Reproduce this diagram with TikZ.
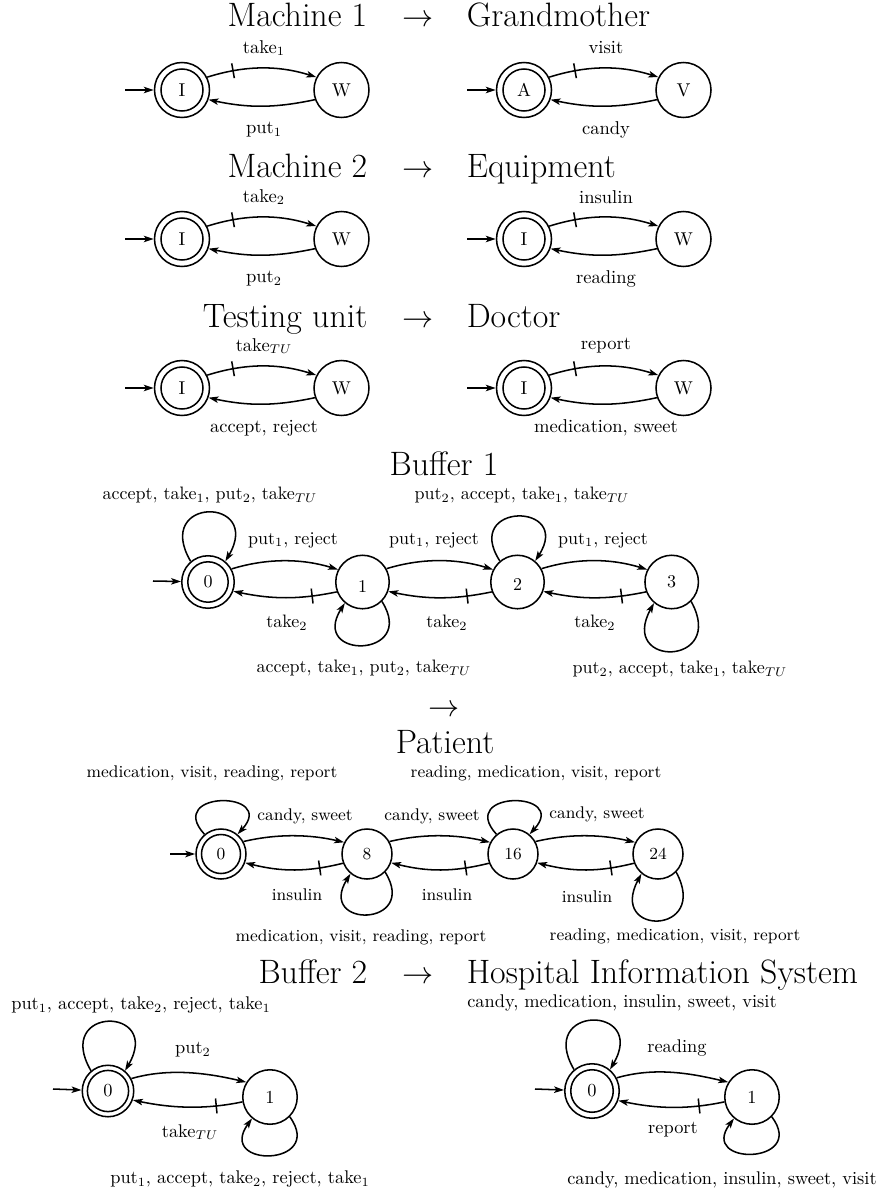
\documentclass[tikz,border=0pt]{standalone}
\usetikzlibrary{arrows.meta,decorations.markings}
% two-state cycle: #1 prefix, #2/#3 centre of the initial state,
% #4/#5 state texts, #6 forward label, #7 backward label
\newcommand{\twostate}[7]{%
  \node[st=55] (#1i) at (#2,#3) {#4};
  \path (#1i) ++(159.5,0) node[st=55] (#1w) {#5};
  \draw (#1i.center) circle[radius=21];
  \path (#1i) ++(-57,0) coordinate (#1s);
  \draw[trans] (#1s) -- (#1i);
  \draw[trans,ticked] (#1i.27) .. controls +(38,-12) and +(-38,-12) .. (#1w.153);
  \draw[trans] (#1w.200) .. controls +(-40,8.5) and +(40,8.5) .. (#1i.-20);
  \path (#1i) ++(82,-42) node[lbl] (#1f) {#6};
  \path (#1i) ++(82,40) node[lbl] (#1b) {#7};
}
\begin{document}
\begin{tikzpicture}[x=0.55556pt,y=-0.55556pt,
  line width=0.85pt,
  >={Stealth[length=5.5pt,width=3.6pt,inset=1.3pt]},
  st/.style={circle,draw,inner sep=0pt,minimum size=#1*0.55556pt},
  trans/.style={->},
  ticked/.style={postaction={decorate,decoration={markings,
      mark=at position 0.24 with {\draw[-] (0,-7.5) -- (0,7.5);}}}},
  lbl/.style={inner sep=0pt},
  ttl/.style={font=\fontsize{18.8}{22}\selectfont,inner sep=0pt},
]
\useasboundingbox (0,0) rectangle (881,1192);

% ---------- titles ----------
\node[ttl,anchor=base east] (t1l) at (368,27) {Machine 1};
\node[ttl,anchor=base]      (t1a) at (418,27) {$\rightarrow$};
\node[ttl,anchor=base west] (t1r) at (466,27) {Grandmother};
\node[ttl,anchor=base east] (t2l) at (368,177) {Machine 2};
\node[ttl,anchor=base]      (t2a) at (418,177) {$\rightarrow$};
\node[ttl,anchor=base west] (t2r) at (466,177) {Equipment};
\node[ttl,anchor=base east] (t3l) at (368,327) {Testing unit};
\node[ttl,anchor=base]      (t3a) at (418,327) {$\rightarrow$};
\node[ttl,anchor=base west] (t3r) at (466,327) {Doctor};
\node[ttl,anchor=base]      (t4)  at (444,475) {Buffer 1};
\node[ttl,anchor=base]      (t4a) at (444,716) {$\rightarrow$};
\node[ttl,anchor=base]      (t5)  at (445,753) {Patient};
\node[ttl,anchor=base east] (t6l) at (368,983) {Buffer 2};
\node[ttl,anchor=base]      (t6a) at (418,983) {$\rightarrow$};
\node[ttl,anchor=base west] (t6r) at (466,983) {Hospital Information System};

% ---------- machines, testing unit and their counterparts ----------
\begin{scope}[font=\fontsize{10.3}{12.4}\selectfont]
\twostate{ma}{182}{90}{I}{W}{take$_1$}{put$_1$}
\twostate{ga}{524}{90}{A}{V}{visit}{candy}
\twostate{mb}{182}{239}{I}{W}{take$_2$}{put$_2$}
\twostate{eq}{524}{239}{I}{W}{insulin}{reading}
\twostate{tu}{182}{388}{I}{W}{take$_{TU}$}{accept, reject}
\twostate{dr}{524}{388}{I}{W}{report}{medication, sweet}
\end{scope}

% ---------- Buffer 1 ----------
\begin{scope}[font=\fontsize{10}{12}\selectfont]
\node[st=52.5] (b0) at (208,582) {0};
\node[st=53.5,text height=12pt] (b1) at (362.5,582) {1};
\node[st=53.5,text height=9.8pt] (b2) at (517.5,582) {2};
\node[st=53.5] (b3) at (671.7,582) {3};
\draw (b0.center) circle[radius=20.2];
\coordinate (bs) at (153,581);
\draw[trans] (bs) -- (b0);
\draw[trans] (b0.29) .. controls +(36,-11) and +(-36,-11) .. (b1.153);
\draw[trans] (b1.29) .. controls +(36,-11) and +(-36,-11) .. (b2.153);
\draw[trans] (b2.29) .. controls +(36,-11) and +(-36,-11) .. (b3.153);
\draw[trans,ticked] (b1.201) .. controls +(-38,8) and +(38,8) .. (b0.-20);
\draw[trans,ticked] (b2.201) .. controls +(-38,8) and +(38,8) .. (b1.-20);
\draw[trans,ticked] (b3.201) .. controls +(-38,8) and +(38,8) .. (b2.-20);
\draw[trans] (b0.130) .. controls +(-38,-65) and +(38,-65) .. (b0.50);
\draw[trans] (b1.-45) .. controls +(36,57) and +(-36,57) .. (b1.-130);
\draw[trans] (b2.130) .. controls +(-38,-59) and +(38,-59) .. (b2.50);
\draw[trans] (b3.-45) .. controls +(36,65) and +(-36,65) .. (b3.-130);
\node[lbl] (b01) at (293,540) {put$_1$, reject};
\node[lbl] (b12) at (434,540) {put$_1$, reject};
\node[lbl] (b23) at (603,540) {put$_1$, reject};
\node[lbl] (b10) at (287,623) {take$_2$};
\node[lbl] (b21) at (447,623) {take$_2$};
\node[lbl] (b32) at (595,623) {take$_2$};
\node[lbl] (b00) at (210,495) {accept, take$_1$, put$_2$, take$_{TU}$};
\node[lbl] (b11) at (364,668) {accept, take$_1$, put$_2$, take$_{TU}$};
\node[lbl] (b22) at (522,495) {put$_2$, accept, take$_1$, take$_{TU}$};
\node[lbl] (b33) at (680,669) {put$_2$, accept, take$_1$, take$_{TU}$};
\end{scope}

% ---------- Patient ----------
\begin{scope}[font=\fontsize{9.4}{11.3}\selectfont]
\node[st=50] (p0)  at (221,854) {0};
\node[st=50] (p8)  at (367,854) {8};
\node[st=50] (p16) at (513,854) {16};
\node[st=50] (p24) at (658,854) {24};
\draw (p0.center) circle[radius=19.5];
\coordinate (ps) at (170,854);
\draw[trans] (ps) -- (p0);
\draw[trans] (p0.29) .. controls +(34,-8) and +(-34,-8) .. (p8.153);
\draw[trans] (p8.29) .. controls +(34,-8) and +(-34,-8) .. (p16.153);
\draw[trans] (p16.29) .. controls +(34,-8) and +(-34,-8) .. (p24.153);
\draw[trans,ticked] (p8.201) .. controls +(-36,9) and +(36,9) .. (p0.-20);
\draw[trans,ticked] (p16.201) .. controls +(-36,9) and +(36,9) .. (p8.-20);
\draw[trans,ticked] (p24.201) .. controls +(-36,9) and +(36,9) .. (p16.-20);
\draw[trans] (p0.130) .. controls +(-40,-44) and +(40,-44) .. (p0.50);
\draw[trans] (p8.-45) .. controls +(34,55) and +(-34,55) .. (p8.-130);
\draw[trans] (p16.130) .. controls +(-40,-44) and +(40,-44) .. (p16.50);
\draw[trans] (p24.-45) .. controls +(34,63) and +(-34,63) .. (p24.-130);
\node[lbl] (p0to8)   at (305,816) {candy, sweet};
\node[lbl] (p8to16)  at (432,816) {candy, sweet};
\node[lbl] (p16to24) at (597,814) {candy, sweet};
\node[lbl] (p8to0)   at (297,895) {insulin};
\node[lbl] (p16to8)  at (447,895) {insulin};
\node[lbl] (p24to16) at (587,897) {insulin};
\node[lbl] (p00)   at (212,773) {medication, visit, reading, report};
\node[lbl] (p88)   at (361,937) {medication, visit, reading, report};
\node[lbl] (p1616) at (536,773) {reading, medication, visit, report};
\node[lbl] (p2424) at (675,936) {reading, medication, visit, report};
\end{scope}

% ---------- Buffer 2 and Hospital Information System ----------
\begin{scope}[font=\fontsize{10.2}{12.2}\selectfont]
\node[st=51.5] (c0) at (108,1091) {0};
\node[st=54.5] (c1) at (270,1097) {1};
\draw (c0.center) circle[radius=20.6];
\coordinate (cs) at (53,1089);
\draw[trans] (cs) -- (c0);
\draw[trans] (c0.28) .. controls +(38,-11) and +(-38,-9) .. (c1.148);
\draw[trans,ticked] (c1.190) .. controls +(-38,8) and +(38,8) .. (c0.-20);
\draw[trans] (c0.130) .. controls +(-38,-65) and +(38,-65) .. (c0.50);
\draw[trans] (c1.-45) .. controls +(36,50) and +(-36,50) .. (c1.-130);
\node[lbl] (c01) at (193,1050) {put$_2$};
\node[lbl] (c10) at (190,1132) {take$_{TU}$};
\node[lbl] (c00) at (141,1005) {put$_1$, accept, take$_2$, reject, take$_1$};
\node[lbl] (c11) at (240,1179) {put$_1$, accept, take$_2$, reject, take$_1$};

\node[st=54.5] (h0) at (592,1091) {0};
\node[st=54.5] (h1) at (752,1097) {1};
\draw (h0.center) circle[radius=21.25];
\coordinate (hs) at (535,1089);
\draw[trans] (hs) -- (h0);
\draw[trans] (h0.28) .. controls +(38,-11) and +(-38,-9) .. (h1.148);
\draw[trans,ticked] (h1.190) .. controls +(-38,8) and +(38,8) .. (h0.-20);
\draw[trans] (h0.130) .. controls +(-38,-65) and +(38,-65) .. (h0.50);
\draw[trans] (h1.-45) .. controls +(36,48) and +(-36,48) .. (h1.-130);
\node[lbl] (h01) at (677,1048) {reading};
\node[lbl] (h10) at (673,1130) {report};
\node[lbl] (h00) at (622,1003) {candy, medication, insulin, sweet, visit};
\node[lbl] (h11) at (722,1180) {candy, medication, insulin, sweet, visit};
\end{scope}
\end{tikzpicture}
\end{document}
